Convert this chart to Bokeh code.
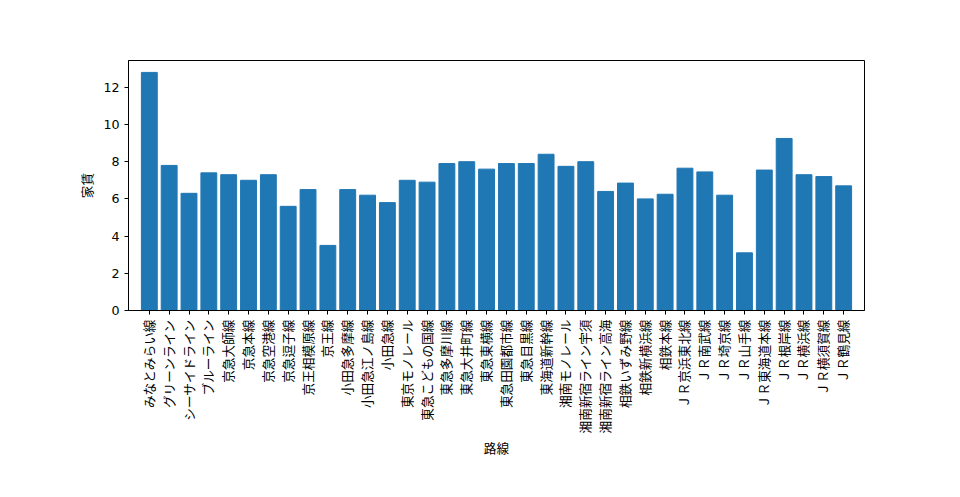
from math import pi
from bokeh.plotting import figure
from bokeh.models import Range1d, FixedTicker
from bokeh.embed import file_html
from bokeh.resources import INLINE

lines = ["みなとみらい線", "グリーンライン", "シーサイドライン", "ブルーライン", "京急大師線",
         "京急本線", "京急空港線", "京急逗子線", "京王相模原線", "京王線",
         "小田急多摩線", "小田急江ノ島線", "小田急線", "東京モノレール", "東急こどもの国線",
         "東急多摩川線", "東急大井町線", "東急東横線", "東急田園都市線", "東急目黒線",
         "東海道新幹線", "湘南モノレール", "湘南新宿ライン宇須", "湘南新宿ライン高海", "相鉄いずみ野線",
         "相鉄新横浜線", "相鉄本線", "ＪＲ京浜東北線", "ＪＲ南武線", "ＪＲ埼京線",
         "ＪＲ山手線", "ＪＲ東海道本線", "ＪＲ根岸線", "ＪＲ横浜線", "ＪＲ横須賀線", "ＪＲ鶴見線"]
rent = [12.8, 7.8, 6.3, 7.4, 7.3, 7.0, 7.3, 5.6, 6.5, 3.5,
        6.5, 6.2, 5.8, 7.0, 6.9, 7.9, 8.0, 7.6, 7.9, 7.9,
        8.4, 7.75, 8.0, 6.4, 6.85, 6.0, 6.25, 7.65, 7.45, 6.2,
        3.1, 7.55, 9.25, 7.3, 7.2, 6.7]
yticks = [0, 2, 4, 6, 8, 10, 12]

font = "DejaVu Sans, Noto Sans CJK JP"
xs = list(range(len(lines)))

p = figure(frame_width=736, frame_height=250, output_backend="svg", toolbar_location=None,
           x_range=Range1d(-1.05, len(lines) - 1 + 1.05), y_range=Range1d(0, 13.44),
           min_border_left=128, min_border_right=80, min_border_top=60, min_border_bottom=160,
           x_axis_label="路線", y_axis_label="家賃")
p.vbar(x=xs, top=rent, width=0.8, color="#1f77b4")

p.xaxis.ticker = FixedTicker(ticks=xs)
p.xaxis.major_label_overrides = {i: s for i, s in enumerate(lines)}
p.xaxis.major_label_orientation = pi / 2
p.yaxis.ticker = FixedTicker(ticks=yticks)
for ax in (p.xaxis, p.yaxis):
    ax.major_label_text_font = font
    ax.major_label_text_font_size = "9.5pt"
    ax.major_label_text_color = "black"
    ax.axis_label_text_font = font
    ax.axis_label_text_font_size = "9.5pt"
    ax.axis_label_text_font_style = "normal"
    ax.axis_label_text_color = "black"
    ax.axis_line_color = "black"
    ax.major_tick_line_color = "black"
    ax.major_tick_in = 0
    ax.major_tick_out = 4
    ax.minor_tick_line_color = None
p.grid.grid_line_color = None
p.outline_line_color = "black"
p.outline_line_alpha = 1

open("out.html", "w").write(file_html(p, INLINE))
